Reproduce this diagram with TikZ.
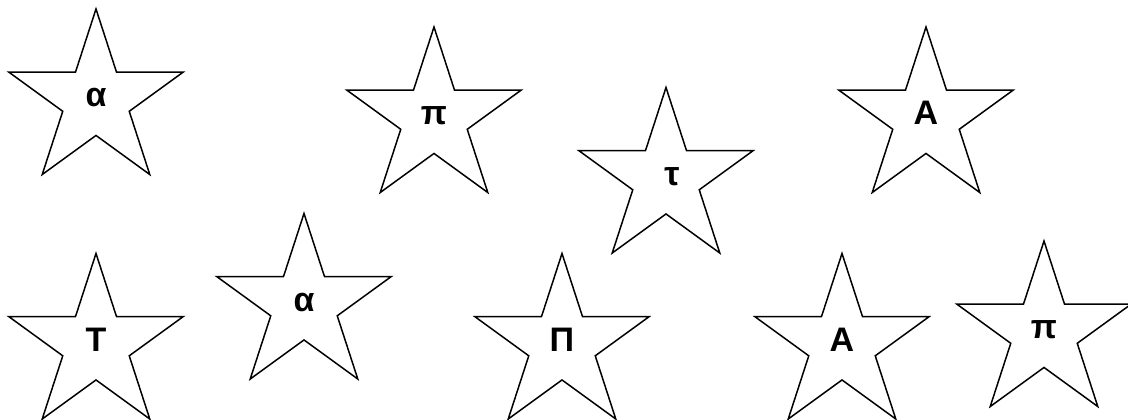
\documentclass[tikz,border=0pt]{standalone}
\usepackage{fontspec}
\setmainfont{Liberation Sans}
\usetikzlibrary{shapes.geometric}

\tikzset{
  starnode/.style={star, star points=5, star point ratio=2.618,
    minimum size=183pt, inner sep=0pt, draw=black, line width=1.5pt,
    font=\fontsize{34}{34}\selectfont\bfseries,
    text height=25pt, text depth=13pt},
}

\begin{document}
\begin{tikzpicture}[x=1pt, y=-1pt]

% Frame
\useasboundingbox (0,0) rectangle (1128,420);

% === Top row ===
\node[starnode] (alphaA) at (96,100.5) {α};
\node[starnode] (piA)    at (434,118.5) {π};
\node[starnode] (tau)    at (666,179) {\hspace*{12pt}τ};
\node[starnode] (AlphaA) at (926,118.5) {Α};

% === Bottom row ===
\node[starnode] (Tau)    at (96,345) {Τ};
\node[starnode] (alphaB) at (304,305) {α};
\node[starnode] (Pi)     at (562,345) {Π};
\node[starnode] (AlphaB) at (842,345) {Α};
\node[starnode] (piB)    at (1044,332.5) {π};

\end{tikzpicture}
\end{document}
